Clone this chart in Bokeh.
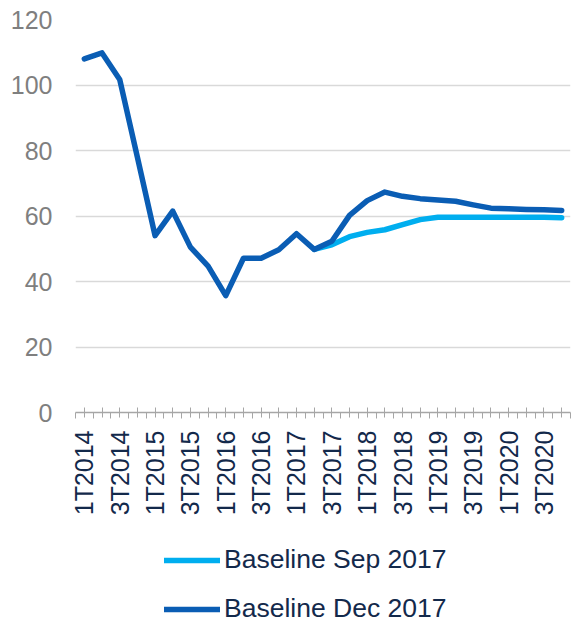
from bokeh.plotting import figure
from bokeh.layouts import column
from bokeh.models import ColumnDataSource, FixedTicker, Legend, LegendItem, Range1d
from bokeh.embed import file_html
from bokeh.resources import INLINE

# Quarterly periods (T = trimestre)
quarters = [
    "1T2014", "2T2014", "3T2014", "4T2014",
    "1T2015", "2T2015", "3T2015", "4T2015",
    "1T2016", "2T2016", "3T2016", "4T2016",
    "1T2017", "2T2017", "3T2017", "4T2017",
    "1T2018", "2T2018", "3T2018", "4T2018",
    "1T2019", "2T2019", "3T2019", "4T2019",
    "1T2020", "2T2020", "3T2020", "4T2020",
]

baseline_dec_2017 = [
    108.0, 109.8, 101.7, 78.0,
    54.0, 61.5, 50.5, 44.7,
    35.7, 47.1, 47.1, 49.7,
    54.6, 49.8, 52.3, 60.2,
    64.7, 67.3, 66.0, 65.3,
    64.9, 64.5, 63.4, 62.4,
    62.2, 62.0, 61.9, 61.7,
]

nan = float("nan")
baseline_sep_2017 = [
    nan, nan, nan, nan,
    nan, nan, nan, nan,
    nan, nan, nan, nan,
    nan, 49.8, 51.2, 53.7,
    55.0, 55.8, 57.4, 58.9,
    59.6, 59.6, 59.6, 59.6,
    59.6, 59.6, 59.6, 59.5,
]

series_names = ["Baseline Sep 2017", "Baseline Dec 2017"]
y_ticks = [0, 20, 40, 60, 80, 100, 120]

LIGHT = "#00AEEF"
DARK = "#0A5DB4"
NAVY = "#13294B"
GREY_TXT = "#7F7F7F"
FONT = "Liberation Sans"

idx = list(range(len(quarters)))
src = ColumnDataSource(dict(x=idx, sep=baseline_sep_2017, dec=baseline_dec_2017))

p = figure(
    width=571, height=520,
    output_backend="svg", toolbar_location=None,
    x_range=Range1d(-0.5, len(quarters) - 0.5),
    y_range=Range1d(0, 120),
    min_border_left=75, min_border_right=1,
    min_border_top=19, min_border_bottom=108,
)
p.outline_line_color = None
p.background_fill_color = "white"
p.border_fill_color = "white"

line_style = dict(line_width=5.5, line_cap="round", line_join="round")
p.line("x", "sep", source=src, line_color=LIGHT, **line_style)
p.line("x", "dec", source=src, line_color=DARK, **line_style)

# x axis: a tick across each quarter, short ticks between quarters,
# labels every second quarter
xa = p.xaxis[0]
xa.ticker = FixedTicker(ticks=idx, minor_ticks=[i - 0.5 for i in range(len(quarters) + 1)])
xa.major_label_overrides = {i: (q if i % 2 == 0 else "") for i, q in enumerate(quarters)}
xa.major_label_orientation = 3.14159265 / 2
xa.major_label_text_font = FONT
xa.major_label_text_font_size = "25px"
xa.major_label_text_color = NAVY
xa.major_label_standoff = 12
xa.axis_line_color = "#A6A6A6"
xa.axis_line_width = 1.5
xa.major_tick_line_color = "#A6A6A6"
xa.major_tick_in = 5
xa.major_tick_out = 5
xa.minor_tick_line_color = "#A6A6A6"
xa.minor_tick_in = 0
xa.minor_tick_out = 6

ya = p.yaxis[0]
ya.ticker = FixedTicker(ticks=y_ticks)
ya.axis_line_color = None
ya.major_tick_line_color = None
ya.minor_tick_line_color = None
ya.major_tick_in = 0
ya.major_tick_out = 0
ya.major_label_standoff = 23
ya.major_label_text_font = FONT
ya.major_label_text_font_size = "25px"
ya.major_label_text_color = GREY_TXT

p.xgrid.grid_line_color = None
p.ygrid.ticker = FixedTicker(ticks=[t for t in y_ticks if t > 0])
p.ygrid.grid_line_color = "#D9D9D9"
p.ygrid.grid_line_width = 1.5

# legend strip underneath the chart; its key lines lie outside the visible range
lg = figure(
    width=571, height=103,
    output_backend="svg", toolbar_location=None,
    x_range=Range1d(0, 1), y_range=Range1d(0, 1),
    x_axis_location=None, y_axis_location=None,
    min_border=0,
)
lg.outline_line_color = None
lg.xgrid.grid_line_color = None
lg.ygrid.grid_line_color = None
k_sep = lg.line(x=[5, 6], y=[5, 6], line_color=LIGHT, **line_style)
k_dec = lg.line(x=[5, 6], y=[5, 6], line_color=DARK, **line_style)

legend = Legend(
    items=[
        LegendItem(label=series_names[0], renderers=[k_sep]),
        LegendItem(label=series_names[1], renderers=[k_dec]),
    ],
    orientation="vertical",
    location=(89, -1),
    glyph_width=56, glyph_height=30,
    label_height=30, label_standoff=4, spacing=18,
    padding=0, margin=0,
    label_text_font=FONT, label_text_font_size="26.5px", label_text_color=NAVY,
    border_line_color=None, background_fill_alpha=0,
)
lg.add_layout(legend)

open("out.html", "w").write(file_html(column(p, lg, spacing=0), INLINE))
